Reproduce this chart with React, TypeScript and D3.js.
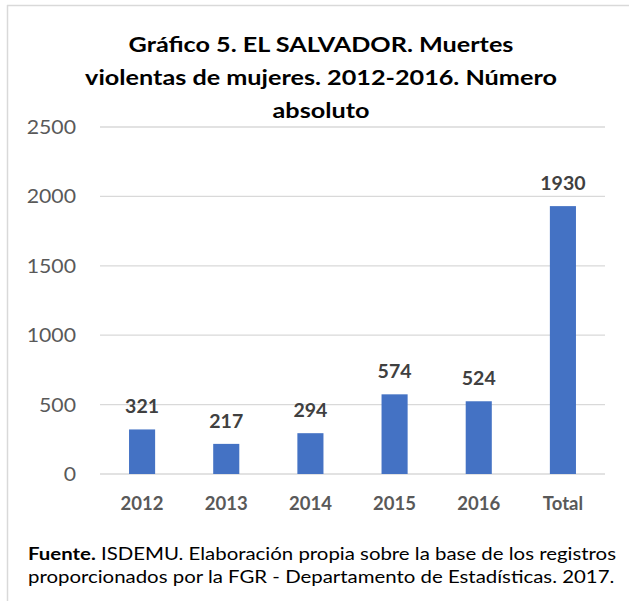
import React from "react";
import * as d3 from "d3";

const categories = ["2012", "2013", "2014", "2015", "2016", "Total"];
const values = [321, 217, 294, 574, 524, 1930];
const yTicks = [0, 500, 1000, 1500, 2000, 2500];
const titleLines = [
  "Gráfico 5. EL SALVADOR. Muertes",
  "violentas de mujeres. 2012-2016. Número",
  "absoluto",
];
const sourceBold = "Fuente.";
const sourceLine1 = " ISDEMU. Elaboración propia sobre la base de los registros";
const sourceLine2 = "proporcionados por la FGR - Departamento de Estadísticas. 2017.";

const W = 629;
const H = 601;
const FONT = "Lato, 'Open Sans', sans-serif";

function SText({
  x,
  y,
  sx = 1,
  children,
  ...rest
}: {
  x: number;
  y: number;
  sx?: number;
  children: React.ReactNode;
  [k: string]: any;
}) {
  return (
    <g transform={`translate(${x},${y}) scale(${sx},1)`}>
      <text x={0} y={0} {...rest}>
        {children}
      </text>
    </g>
  );
}

export default function App() {
  const x = d3
    .scaleBand<string>()
    .domain(categories)
    .range([100, 605])
    .paddingInner(0.69)
    .paddingOuter(0.345);
  const y = d3.scaleLinear().domain([0, 2500]).range([474, 127]);

  return (
    <svg
      width={W}
      height={H}
      style={{ position: "absolute", left: 0, top: 0, background: "#fff" }}
      fontFamily={FONT}
    >
      <rect x={0} y={0} width={W} height={H} fill="#fff" />
      <line x1={7} x2={W} y1={5.5} y2={5.5} stroke="#d9d9d9" strokeWidth={1.5} />
      <line x1={7.5} x2={7.5} y1={5} y2={H} stroke="#d9d9d9" strokeWidth={1.5} />

      {titleLines.map((t, i) => (
        <SText
          key={i}
          x={321}
          y={52 + i * 33}
          sx={1.2}
          textAnchor="middle"
          fontSize={21}
          fontWeight="bold"
          fill="#000"
        >
          {t}
        </SText>
      ))}

      {yTicks.map((t) => (
        <g key={t}>
          <line x1={100} x2={605} y1={y(t)} y2={y(t)} stroke="#d9d9d9" strokeWidth={1.3} />
          <SText
            x={76}
            y={y(t)}
            sx={1.09}
            dy="0.36em"
            textAnchor="end"
            fontSize={19.5}
            fill="#595959"
          >
            {t}
          </SText>
        </g>
      ))}

      {categories.map((c, i) => (
        <g key={c}>
          <rect
            x={x(c)}
            y={y(values[i])}
            width={x.bandwidth()}
            height={y(0) - y(values[i])}
            fill="#4472c4"
          />
          <text
            x={(x(c) as number) + x.bandwidth() / 2}
            y={y(values[i]) - 16}
            textAnchor="middle"
            fontSize={19.5}
            fontWeight="bold"
            fill="#404040"
          >
            {values[i]}
          </text>
          <text
            x={(x(c) as number) + x.bandwidth() / 2}
            y={510}
            textAnchor="middle"
            fontSize={18.5}
            fontWeight="bold"
            fill="#595959"
          >
            {c}
          </text>
        </g>
      ))}

      <SText x={28} y={560} sx={1.2} fontSize={17} fill="#000">
        <tspan fontWeight="bold">{sourceBold}</tspan>
        <tspan>{sourceLine1}</tspan>
      </SText>
      <SText x={28} y={583} sx={1.2} fontSize={17} fill="#000">
        {sourceLine2}
      </SText>
    </svg>
  );
}
